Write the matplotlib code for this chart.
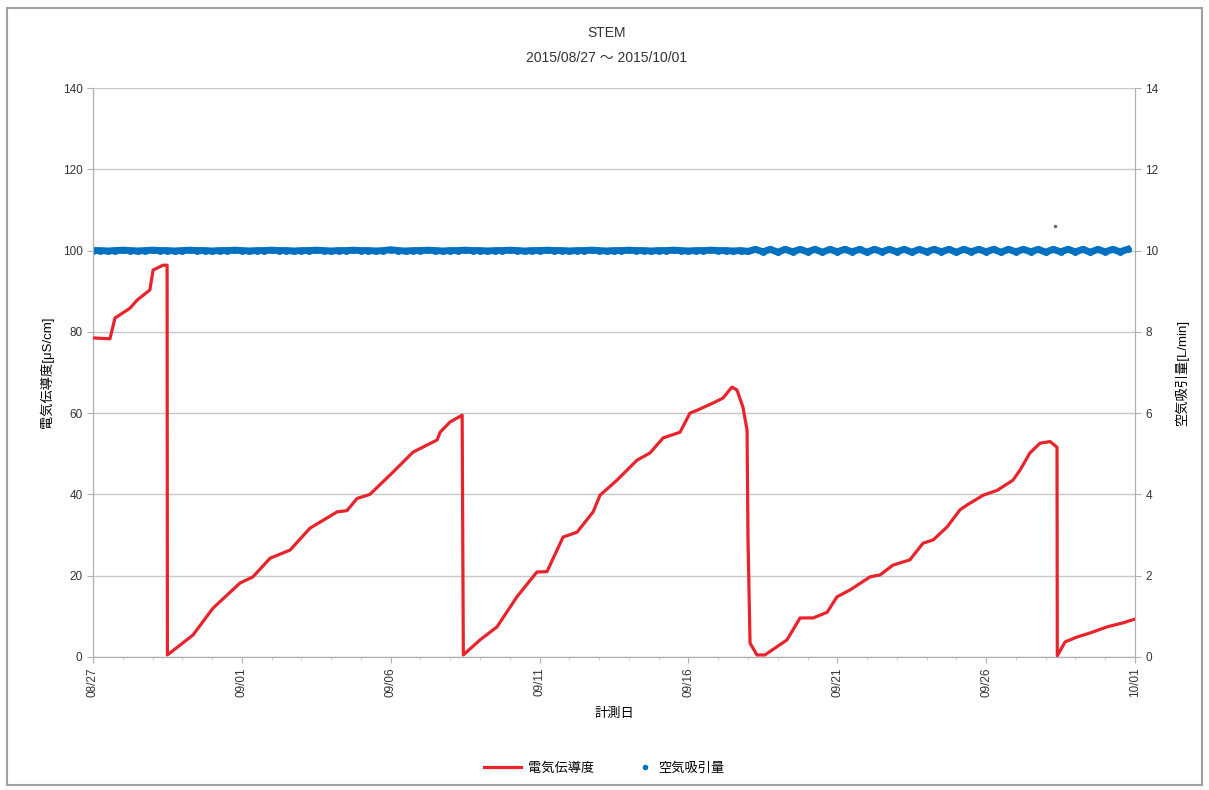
import matplotlib
matplotlib.use('Agg')
import matplotlib.pyplot as plt
import matplotlib.dates as mdates
from matplotlib.lines import Line2D
from matplotlib.patches import Rectangle
import pandas as pd

plt.rcParams['font.family'] = ['Liberation Sans', 'Noto Sans CJK JP', 'DejaVu Sans']

start = pd.Timestamp('2015-08-27')
end = pd.Timestamp('2015-10-01')

# conductivity (days since 08/27, uS/cm)
ec_days = [0.0, 0.57, 0.74, 1.24, 1.48, 1.91, 2.02, 2.35, 2.49,
           2.50, 3.36, 4.03, 4.50, 4.94, 5.37, 5.95, 6.62, 7.29, 8.20, 8.53,
           8.87, 9.30, 10.08, 10.75, 11.56, 11.66, 11.99, 12.40,
           12.44, 13.0, 13.57, 14.24, 14.91, 15.25, 15.79, 16.26, 16.80, 17.03,
           17.60, 18.27, 18.71, 19.15, 19.72, 20.05, 20.29, 20.83, 21.16, 21.46,
           21.63, 21.83, 21.97, 22.0, 22.07, 22.30, 22.57, 22.97, 23.31, 23.75,
           24.19, 24.66, 24.99, 25.43, 26.10, 26.44, 26.87, 27.44, 27.88, 28.22,
           28.69, 29.12, 29.36, 29.90, 30.37, 30.90, 31.14, 31.47, 31.81, 32.15,
           32.38, 32.39, 32.65, 33.05, 33.49, 34.06, 34.60, 34.90, 35.0]
ec_vals = [78.5, 78.3, 83.4, 85.8, 87.8, 90.3, 95.2, 96.4, 96.4,
           0.5, 5.4, 12.0, 15.2, 18.2, 19.7, 24.3, 26.3, 31.7, 35.7, 36.0,
           39.0, 40.0, 45.5, 50.4, 53.4, 55.3, 57.8, 59.5,
           0.5, 4.2, 7.4, 14.8, 20.9, 21.0, 29.5, 30.7, 35.7, 39.8,
           43.5, 48.4, 50.2, 53.9, 55.3, 60.0, 60.7, 62.5, 63.7, 66.4,
           65.7, 61.5, 55.8, 29.5, 3.4, 0.5, 0.5, 2.5, 4.2, 9.6,
           9.6, 11.0, 14.8, 16.5, 19.7, 20.2, 22.6, 23.9, 28.0, 28.8,
           32.0, 36.2, 37.4, 39.8, 41.0, 43.5, 46.0, 50.2, 52.6, 53.0,
           51.6, 0.3, 3.7, 4.9, 5.9, 7.4, 8.4, 9.1, 9.3]

# air suction, one reading every 6 hours (L/min)
air_step_h = 6
air_vals = [
    10.0, 10.0, 9.99, 10.0, 10.01, 10.0, 9.99, 10.0, 10.01, 10.0,
    10.0, 9.99, 10.0, 10.01, 10.0, 10.0, 9.99, 10.0, 10.0, 10.01,
    10.0, 9.99, 10.0, 10.0, 10.01, 10.0, 10.0, 9.99, 10.0, 10.0,
    10.01, 10.0, 9.99, 10.0, 10.0, 10.01, 10.0, 10.0, 9.99, 10.0,
    10.02, 10.0, 9.99, 10.0, 10.0, 10.01, 10.0, 9.99, 10.0, 10.0,
    10.01, 10.0, 10.0, 9.99, 10.0, 10.0, 10.01, 10.0, 9.99, 10.0,
    10.0, 10.01, 10.0, 10.0, 9.99, 10.0, 10.0, 10.01, 10.0, 9.99,
    10.0, 10.0, 10.01, 10.0, 10.0, 9.99, 10.0, 10.0, 10.01, 10.0,
    9.99, 10.0, 10.0, 10.01, 10.0, 10.0, 9.99, 10.0, 9.98,
    10.03, 9.97, 10.03, 9.96, 10.03, 9.97, 10.03, 9.97, 10.03, 9.96,
    10.03, 9.97, 10.03, 9.97, 10.03, 9.96, 10.03, 9.97, 10.03, 9.97,
    10.03, 9.96, 10.03, 9.97, 10.03, 9.97, 10.03, 9.96, 10.03, 9.97,
    10.03, 9.97, 10.03, 9.96, 10.03, 9.97, 10.03, 9.97, 10.03, 9.96,
    10.03, 9.97, 10.03, 9.97, 10.03, 9.96, 10.03, 9.97, 10.03, 9.97,
    10.03]
air_spike_day = 32.3
air_spike_val = 10.6

ec_dates = [start + pd.Timedelta(days=d) for d in ec_days]
air_dates = [start + pd.Timedelta(hours=air_step_h * i) for i in range(len(air_vals))]
spike_date = start + pd.Timedelta(days=air_spike_day)

red = '#E8232B'
blue = '#0070C0'

fig = plt.figure(figsize=(12.09, 7.90), dpi=100)
fig.patches.append(Rectangle((0.006, 0.006), 0.988, 0.984, transform=fig.transFigure,
                             fill=False, edgecolor='#a0a0a0', linewidth=1.5))

ax = fig.add_axes([0.0769, 0.1684, 0.8619, 0.7202])
ax2 = ax.twinx()

ax.plot(ec_dates, ec_vals, color=red, linewidth=2.3, zorder=3)
ax2.plot(air_dates, air_vals, linestyle='-', linewidth=5, marker='o', markersize=5,
         color=blue, markeredgewidth=0, zorder=2)
ax2.plot([spike_date], [air_spike_val], linestyle='none', marker='o', markersize=2.5,
         color='#5a6a7a', markeredgewidth=0)

ax.set_zorder(ax2.get_zorder() + 1)
ax.patch.set_visible(False)

ax.set_xlim(start, end)
ax.set_ylim(0, 140)
ax2.set_ylim(0, 14)
ax.set_yticks(range(0, 141, 20))
ax2.set_yticks(range(0, 15, 2))
ax2.set_axisbelow(True)
ax2.yaxis.grid(True, color='#c8c8c8', linewidth=1)
ax.set_xticks(pd.date_range(start, end, freq='5D'))
ax.xaxis.set_major_formatter(mdates.DateFormatter('%m/%d'))
ax.xaxis.set_minor_locator(mdates.DayLocator())
plt.setp(ax.get_xticklabels(), rotation=90)

for a in (ax, ax2):
    for s in a.spines.values():
        s.set_color('#b0b0b0')
    a.tick_params(colors='#b0b0b0', labelcolor='#333333', labelsize=8.5, length=4)
    a.tick_params(which='minor', colors='#c8c8c8', length=2)
ax.spines['top'].set_visible(False)
ax2.spines['top'].set_visible(False)

ax.set_ylabel('電気伝導度[μS/cm]', fontsize=9.5, labelpad=6)
ax2.set_ylabel('空気吸引量[L/min]', fontsize=9.5, rotation=90, labelpad=12)
ax.set_xlabel('計測日', fontsize=9.5, labelpad=8)

fig.text(0.502, 0.958, 'STEM', ha='center', va='center', fontsize=10, color='#333333')
fig.text(0.502, 0.927, '2015/08/27 ～ 2015/10/01', ha='center', va='center',
         fontsize=10, color='#333333')

fig.legend([Line2D([], [], color=red, linewidth=2.3)], ['電気伝導度'],
           loc='center', bbox_to_anchor=(0.446, 0.027), frameon=False,
           fontsize=9.5, handlelength=2.8, handletextpad=0.5)
fig.legend([Line2D([], [], color=blue, marker='o', markersize=3, linestyle='none')],
           ['空気吸引量'], loc='center', bbox_to_anchor=(0.564, 0.027), frameon=False,
           fontsize=9.5, handlelength=0.8, handletextpad=0.6)

fig.savefig('out.png', dpi=100)
